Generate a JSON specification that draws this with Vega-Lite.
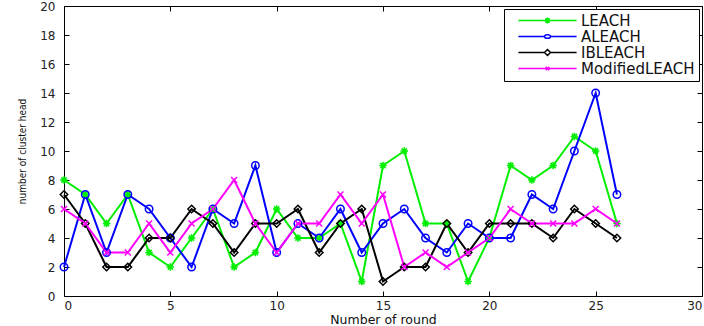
{
  "$schema": "https://vega.github.io/schema/vega-lite/v6.json",
  "width": 638,
  "height": 290,
  "autosize": {"type": "none"},
  "padding": {"left": 64, "top": 6, "right": 2, "bottom": 30},
  "background": "white",
  "data": {
    "values": [
      {"round": 0, "LEACH": 8, "ALEACH": 2, "IBLEACH": 7, "ModifiedLEACH": 6},
      {"round": 1, "LEACH": 7, "ALEACH": 7, "IBLEACH": 5, "ModifiedLEACH": 5},
      {"round": 2, "LEACH": 5, "ALEACH": 3, "IBLEACH": 2, "ModifiedLEACH": 3},
      {"round": 3, "LEACH": 7, "ALEACH": 7, "IBLEACH": 2, "ModifiedLEACH": 3},
      {"round": 4, "LEACH": 3, "ALEACH": 6, "IBLEACH": 4, "ModifiedLEACH": 5},
      {"round": 5, "LEACH": 2, "ALEACH": 4, "IBLEACH": 4, "ModifiedLEACH": 3},
      {"round": 6, "LEACH": 4, "ALEACH": 2, "IBLEACH": 6, "ModifiedLEACH": 5},
      {"round": 7, "LEACH": 6, "ALEACH": 6, "IBLEACH": 5, "ModifiedLEACH": 6},
      {"round": 8, "LEACH": 2, "ALEACH": 5, "IBLEACH": 3, "ModifiedLEACH": 8},
      {"round": 9, "LEACH": 3, "ALEACH": 9, "IBLEACH": 5, "ModifiedLEACH": 5},
      {"round": 10, "LEACH": 6, "ALEACH": 3, "IBLEACH": 5, "ModifiedLEACH": 3},
      {"round": 11, "LEACH": 4, "ALEACH": 5, "IBLEACH": 6, "ModifiedLEACH": 5},
      {"round": 12, "LEACH": 4, "ALEACH": 4, "IBLEACH": 3, "ModifiedLEACH": 5},
      {"round": 13, "LEACH": 5, "ALEACH": 6, "IBLEACH": 5, "ModifiedLEACH": 7},
      {"round": 14, "LEACH": 1, "ALEACH": 3, "IBLEACH": 6, "ModifiedLEACH": 5},
      {"round": 15, "LEACH": 9, "ALEACH": 5, "IBLEACH": 1, "ModifiedLEACH": 7},
      {"round": 16, "LEACH": 10, "ALEACH": 6, "IBLEACH": 2, "ModifiedLEACH": 2},
      {"round": 17, "LEACH": 5, "ALEACH": 4, "IBLEACH": 2, "ModifiedLEACH": 3},
      {"round": 18, "LEACH": 5, "ALEACH": 3, "IBLEACH": 5, "ModifiedLEACH": 2},
      {"round": 19, "LEACH": 1, "ALEACH": 5, "IBLEACH": 3, "ModifiedLEACH": 3},
      {"round": 20, "LEACH": 4, "ALEACH": 4, "IBLEACH": 5, "ModifiedLEACH": 4},
      {"round": 21, "LEACH": 9, "ALEACH": 4, "IBLEACH": 5, "ModifiedLEACH": 6},
      {"round": 22, "LEACH": 8, "ALEACH": 7, "IBLEACH": 5, "ModifiedLEACH": 5},
      {"round": 23, "LEACH": 9, "ALEACH": 6, "IBLEACH": 4, "ModifiedLEACH": 5},
      {"round": 24, "LEACH": 11, "ALEACH": 10, "IBLEACH": 6, "ModifiedLEACH": 5},
      {"round": 25, "LEACH": 10, "ALEACH": 14, "IBLEACH": 5, "ModifiedLEACH": 6},
      {"round": 26, "LEACH": 5, "ALEACH": 7, "IBLEACH": 4, "ModifiedLEACH": 5}
    ]
  },
  "transform": [
    {"fold": ["LEACH", "ALEACH", "IBLEACH", "ModifiedLEACH"], "as": ["series", "value"]}
  ],
  "layer": [
    {
      "mark": {"type": "line", "strokeWidth": 2},
      "encoding": {
        "x": {"field": "round", "type": "quantitative",
              "scale": {"domain": [0, 30], "nice": false, "zero": false},
              "axis": {"orient": "bottom", "values": [0, 5, 10, 15, 20, 25, 30], "labelPadding": 9,
                       "title": "Number of round", "titleFont": "DejaVu Sans", "titleFontSize": 12.5, "titlePadding": 2}},
        "y": {"field": "value", "type": "quantitative",
              "scale": {"domain": [0, 20], "nice": false},
              "axis": {"orient": "left", "values": [0, 2, 4, 6, 8, 10, 12, 14, 16, 18, 20], "labelPadding": 14,
                       "title": "number of cluster head", "titleFont": "DejaVu Sans Condensed", "titleFontSize": 10, "titlePadding": 12}},
        "color": {"field": "series", "type": "nominal",
                  "scale": {"domain": ["LEACH", "ALEACH", "IBLEACH", "ModifiedLEACH"],
                            "range": ["#00ee00", "#0000ff", "#000000", "#ff00ff"]},
                  "legend": {
                    "labelExpr": "datum.label + '\u00a0\u00a0\u00a0'",
                    "encode": {
                      "symbols": {
                        "update": {
                          "shape": {"signal": "datum.value === 'LEACH' ? 'M-9.7,0H9.7M0,-1V1M-0.7,-0.7L0.7,0.7M-0.7,0.7L0.7,-0.7' : datum.value === 'ALEACH' ? 'M-9.7,0H-1M1,0H9.7M1,0A1,0.6 0 1,1 -1,0A1,0.6 0 1,1 1,0' : datum.value === 'IBLEACH' ? 'M-9.7,0H-1M1,0H9.7M0,-1L1,0L0,1L-1,0Z' : 'M-9.7,0H9.7M-0.6,-0.6L0.6,0.6M-0.6,0.6L0.6,-0.6'"}
                        }
                      }
                    }
                  }},
        "detail": {"field": "series"}
      }
    },
    {
      "transform": [{"filter": "datum.series === 'LEACH'"}],
      "mark": {"type": "point", "filled": false, "strokeWidth": 1.5, "size": 56, "opacity": 1,
               "shape": "M-1,0H1M0,-1V1M-0.7,-0.7L0.7,0.7M-0.7,0.7L0.7,-0.7"},
      "encoding": {
        "x": {"field": "round", "type": "quantitative",
              "axis": {"orient": "top", "values": [0, 5, 10, 15, 20, 25, 30], "labels": false, "title": null}},
        "y": {"field": "value", "type": "quantitative",
              "axis": {"orient": "right", "values": [0, 2, 4, 6, 8, 10, 12, 14, 16, 18, 20], "labels": false, "title": null}},
        "color": {"field": "series", "type": "nominal"}
      }
    },
    {
      "transform": [{"filter": "datum.series === 'ALEACH'"}],
      "mark": {"type": "point", "filled": false, "strokeWidth": 1.5, "size": 56, "opacity": 1, "shape": "circle"},
      "encoding": {
        "x": {"field": "round", "type": "quantitative", "axis": null},
        "y": {"field": "value", "type": "quantitative", "axis": null},
        "color": {"field": "series", "type": "nominal"}
      }
    },
    {
      "transform": [{"filter": "datum.series === 'IBLEACH'"}],
      "mark": {"type": "point", "filled": false, "strokeWidth": 1.5, "size": 56, "opacity": 1, "shape": "diamond"},
      "encoding": {
        "x": {"field": "round", "type": "quantitative", "axis": null},
        "y": {"field": "value", "type": "quantitative", "axis": null},
        "color": {"field": "series", "type": "nominal"}
      }
    },
    {
      "transform": [{"filter": "datum.series === 'ModifiedLEACH'"}],
      "mark": {"type": "point", "filled": false, "strokeWidth": 1.5, "size": 56, "opacity": 1,
               "shape": "M-0.8,-0.8L0.8,0.8M-0.8,0.8L0.8,-0.8"},
      "encoding": {
        "x": {"field": "round", "type": "quantitative", "axis": null},
        "y": {"field": "value", "type": "quantitative", "axis": null},
        "color": {"field": "series", "type": "nominal"}
      }
    }
  ],
  "resolve": {"axis": {"x": "independent", "y": "independent"}},
  "config": {
    "view": {"stroke": "black", "strokeWidth": 1},
    "axis": {
      "domain": false,
      "grid": false,
      "tickColor": "black",
      "tickSize": -5,
      "labelFont": "DejaVu Sans",
      "labelFontSize": 12,
      "labelColor": "#222",
      "titleFontWeight": "normal",
      "titleColor": "#111"
    },
    "legend": {
      "title": null,
      "orient": "top-right",
      "offset": 3,
      "padding": 4,
      "strokeColor": "black",
      "fillColor": "white",
      "labelFont": "DejaVu Sans",
      "labelFontSize": 15,
      "labelColor": "#111",
      "symbolSize": 36,
      "symbolStrokeWidth": 1.5,
      "symbolOffset": 32,
      "rowPadding": -5,
      "labelOffset": 26
    }
  }
}
